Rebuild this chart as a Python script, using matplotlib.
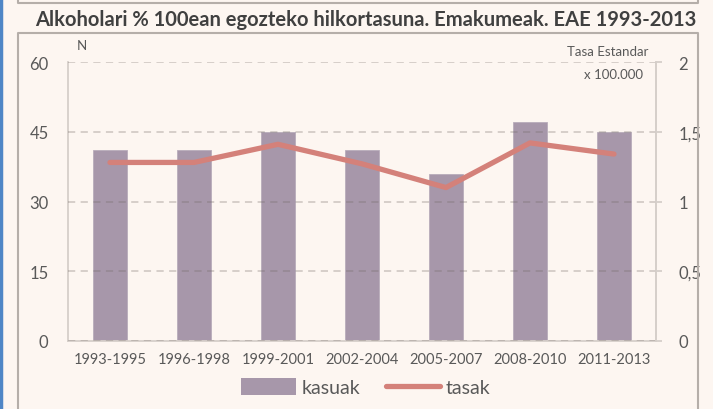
import numpy as np
import matplotlib.pyplot as plt
from matplotlib.lines import Line2D
from matplotlib.patches import Patch

# data
periods = ["1993-1995", "1996-1998", "1999-2001", "2002-2004",
           "2005-2007", "2008-2010", "2011-2013"]
kasuak = [41, 41, 45, 41, 36, 47, 45]
tasak = [1.28, 1.28, 1.41, 1.27, 1.10, 1.42, 1.34]

left_ticks = [0, 15, 30, 45, 60]
right_ticks = [0, 0.5, 1, 1.5, 2]
right_labels = ["0", "0,5", "1", "1,5", "2"]

bg = "#FDF6F1"
bar_color = "#A797AA"
line_color = "#D4817A"
text_color = "#595959"
frame_color = "#B5AEA9"

plt.rcParams['font.family'] = ['Lato', 'DejaVu Sans']

fig = plt.figure(figsize=(7.13, 4.10), dpi=100, facecolor=bg)

# outer decoration: blue strip, top box, main frame
W, H = 713, 410
def fx(px):
    return px / W
def fy(py):
    return 1 - py / H

fig.add_artist(Line2D([0.002, 0.002], [0, 1], color="#4F86C6", lw=2.5,
                      transform=fig.transFigure))
frame_kw = dict(color=frame_color, lw=1.5, transform=fig.transFigure)
fig.add_artist(Line2D([fx(18), fx(18), fx(698), fx(698)],
                      [1, fy(4), fy(4), 1], **frame_kw))
fig.add_artist(Line2D([fx(18), fx(18), fx(698), fx(698)],
                      [0, fy(34), fy(34), 0], **frame_kw))

fig.text(fx(366), fy(20), "Alkoholari % 100ean egozteko hilkortasuna. Emakumeak. EAE 1993-2013",
         ha="center", va="center", fontsize=14.5, fontweight="bold", color="#404040")

ax = fig.add_axes([fx(68), fy(342), fx(656) - fx(68), fy(63) - fy(342)])
ax.set_facecolor(bg)
x = np.arange(len(periods))
ax.bar(x, kasuak, width=0.4, color=bar_color, edgecolor="#B9ACBA", linewidth=0.6, zorder=2)
ax.set_xlim(-0.5, len(periods) - 0.5)
ax.set_ylim(0, 60)
ax.set_yticks(left_ticks)
ax.set_xticks(x)
ax.set_xticklabels(periods)
ax.set_axisbelow(False)
ax.yaxis.grid(True, linestyle=(0, (4, 3)), color="#736B66", alpha=0.3, lw=1.3)
ax.spines["top"].set_visible(False)
for s in ["left", "bottom", "right"]:
    ax.spines[s].set_color("#D6CFCA")
    ax.spines[s].set_linewidth(1.3)
ax.tick_params(axis="y", length=0, pad=14, labelsize=12, colors=text_color)
ax.tick_params(axis="x", length=0, pad=8, labelsize=10.5, colors=text_color)

ax2 = ax.twinx()
ax2.plot(x, tasak, color=line_color, lw=3.8, solid_capstyle="round",
         solid_joinstyle="round", zorder=3)
ax2.set_ylim(0, 2)
ax2.set_yticks(right_ticks)
ax2.set_yticklabels(right_labels)
ax2.tick_params(axis="y", length=4, width=1.3, color="#D6CFCA", pad=12,
                labelsize=12, labelcolor=text_color)
for s in ["top", "left", "bottom"]:
    ax2.spines[s].set_visible(False)
ax2.spines["right"].set_color("#D6CFCA")
ax2.spines["right"].set_linewidth(1.3)

fig.text(fx(82), fy(46), "N", ha="center", va="center", fontsize=9.5, color=text_color)
fig.text(fx(648), fy(52), "Tasa Estandar", ha="right", va="center", fontsize=9.5, color=text_color)
fig.text(fx(613), fy(75), "x 100.000", ha="center", va="center", fontsize=9.5, color=text_color)

handles = [Patch(facecolor=bar_color, edgecolor="none"),
           Line2D([0], [0], color=line_color, lw=3.8, solid_capstyle="round")]
fig.legend(handles, ["kasuak", "tasak"], loc="center", bbox_to_anchor=(fx(366), fy(388)),
           ncol=2, frameon=False, fontsize=14, labelcolor=text_color,
           handlelength=2.8, handleheight=1.0, handletextpad=0.3, columnspacing=1.3)

fig.savefig("out.png", dpi=100, facecolor=bg)
